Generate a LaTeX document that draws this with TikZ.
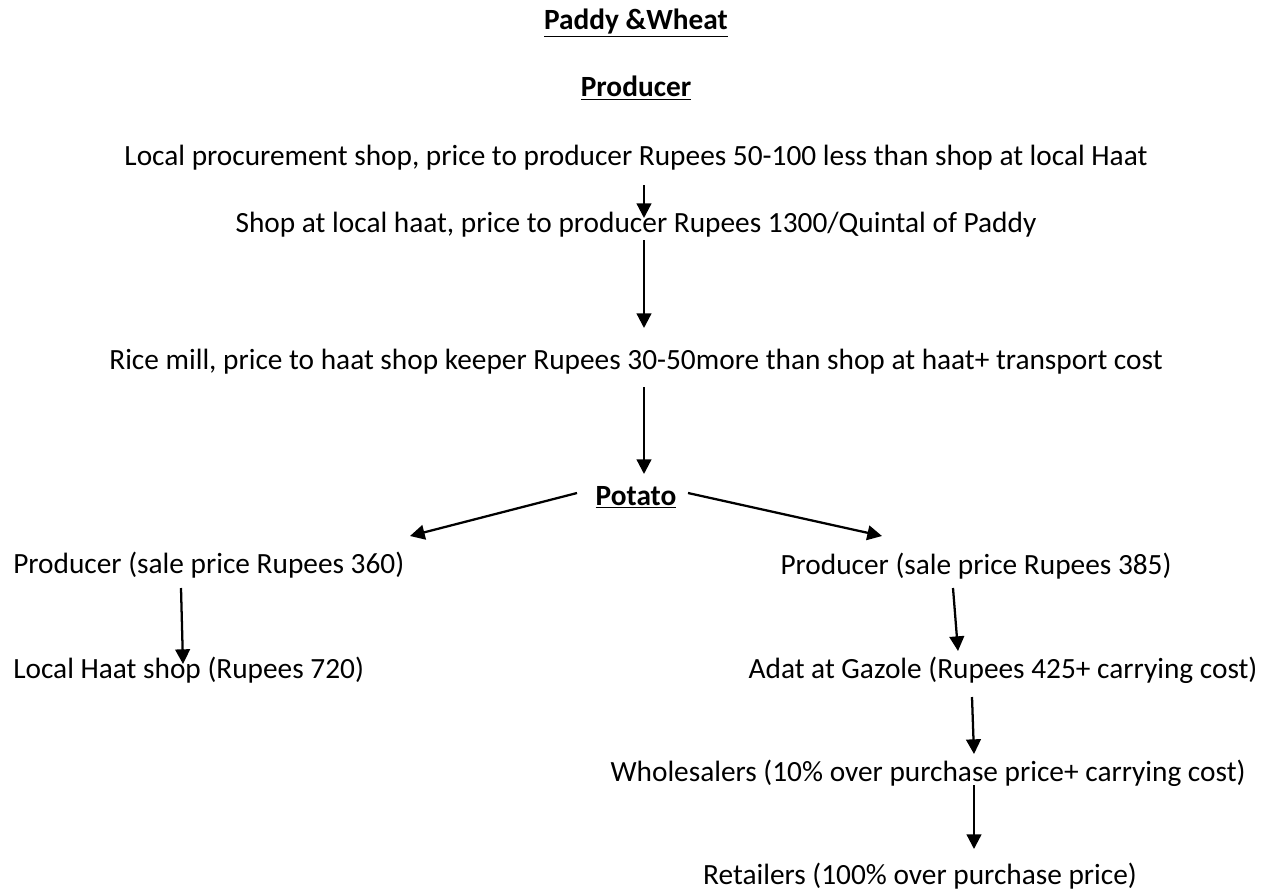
\documentclass[tikz,border=0pt]{standalone}
\usepackage{fontspec}
\setmainfont{Carlito}
\usetikzlibrary{arrows.meta}
\tikzset{
	txt/.style={inner sep=0pt,font=\fontsize{22}{26}\selectfont},
	titre/.style={txt,font=\fontsize{22}{26}\selectfont\bfseries},
	fleche/.style={line width=1.7pt,-{Triangle[length=11pt,width=11pt]}}
}
\begin{document}
\begin{tikzpicture}[x=0.75pt,y=-0.75pt] % schema des prix, unites en pixels

\useasboundingbox (0,0) rectangle (1268,890);

\node[titre] (paddy) at (636,23) {\underline{Paddy \&Wheat}};
\node[titre] (prod) at (636,88) {\underline{Producer}};

\node[txt] (local) at (636,158) {Local procurement shop, price to producer Rupees 50-100 less than shop at local Haat};
\node[txt] (haat) at (636,225) {Shop at local haat, price to producer Rupees 1300/Quintal of Paddy};
\node[txt] (mill) at (636,362) {Rice mill, price to haat shop keeper Rupees 30-50more than shop at haat+ transport cost};

\node[titre] (potato) at (636,497) {\underline{Potato}};

\node[txt,anchor=west] (prodA) at (13,565) {Producer (sale price Rupees 360)};
\node[txt,anchor=west] (shopA) at (13,670) {Local Haat shop (Rupees 720)};

\node[txt] (prodB) at (976,566) {Producer (sale price Rupees 385)};
\node[txt] (adat) at (1003,670) {Adat at Gazole (Rupees 425+ carrying cost)};
\node[txt] (whole) at (928,773) {Wholesalers (10\% over purchase price+ carrying cost)};
\node[txt] (retail) at (920,876) {Retailers (100\% over purchase price)};

% bouts des fleches
\coordinate (f1a) at (644,185); \coordinate (f1b) at (644,218);
\coordinate (f2a) at (644,240); \coordinate (f2b) at (644,328);
\coordinate (f3a) at (644,387); \coordinate (f3b) at (644,474);
\coordinate (g1a) at (577,493); \coordinate (g1b) at (410,536);
\coordinate (d1a) at (688,493); \coordinate (d1b) at (882,536);
\coordinate (g2a) at (181,588); \coordinate (g2b) at (183,664);
\coordinate (d2a) at (953,588); \coordinate (d2b) at (958,651);
\coordinate (d3a) at (972,697); \coordinate (d3b) at (974,754);
\coordinate (d4a) at (974,785); \coordinate (d4b) at (974,849);

\foreach \a/\b in {f1a/f1b,f2a/f2b,f3a/f3b,g1a/g1b,d1a/d1b,g2a/g2b,d2a/d2b,d3a/d3b,d4a/d4b}
{
	\draw[fleche] (\a) -- (\b);
}

\end{tikzpicture}
\end{document}
